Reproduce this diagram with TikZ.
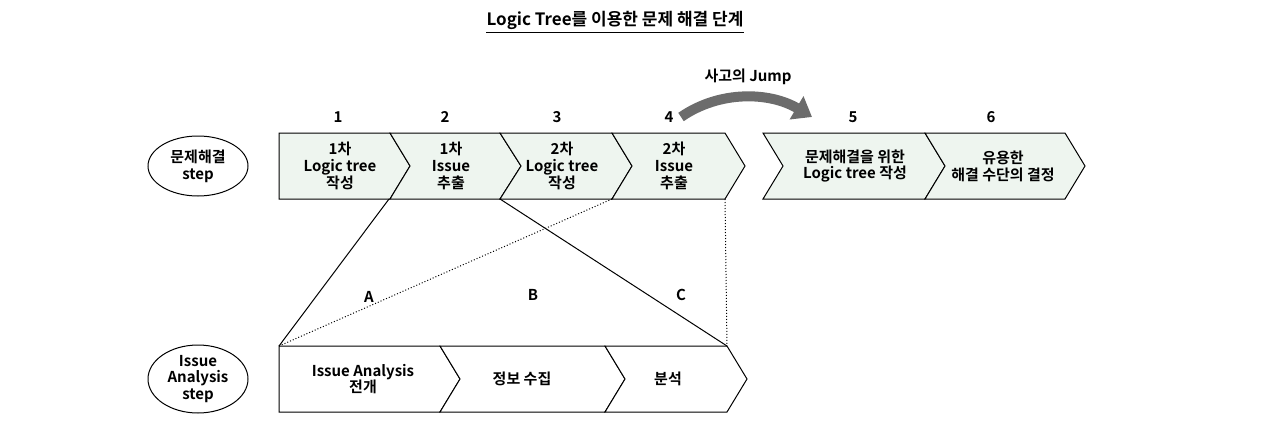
\documentclass[tikz,border=0pt]{standalone}
\usepackage{fontspec}
\setmainfont{Noto Sans CJK KR}[BoldFont={Noto Sans CJK KR Bold}]
\usetikzlibrary{arrows.meta}
\definecolor{chev}{HTML}{EEF5EF}
\begin{document}
\begin{tikzpicture}[x=0.5pt,y=-0.5pt,
  chevf/.style={draw=black,line width=0.5pt,fill=chev},
  chevw/.style={draw=black,line width=0.5pt,fill=white},
  txt/.style={font=\bfseries\fontsize{7.5}{8.4}\selectfont,align=center,inner sep=0pt},
  lbl/.style={font=\bfseries\fontsize{7.5}{9}\selectfont,inner sep=0pt}]
\useasboundingbox (0,0) rectangle (1280,429);
\node[font=\bfseries\fontsize{8.5}{9}\selectfont,inner sep=0pt] (title) at (615,20) {Logic Tree를 이용한 문제 해결 단계};
\draw[line width=0.5pt] ([yshift=-1.5pt]title.south west)--([yshift=-1.5pt]title.south east);
% top chevrons
\filldraw[chevf] (279,133)--(390,133)--(410,166)--(390,199)--(279,199)--cycle;
\filldraw[chevf] (390,133)--(500,133)--(521,166)--(500,199)--(390,199)--(410,166)--cycle;
\filldraw[chevf] (500,133)--(612,133)--(632,166)--(612,199)--(500,199)--(521,166)--cycle;
\filldraw[chevf] (612,133)--(725,133)--(745,166)--(725,199)--(612,199)--(632,166)--cycle;
\filldraw[chevf] (763,133)--(925,133)--(945,166)--(925,199)--(763,199)--(783,166)--cycle;
\filldraw[chevf] (925,133)--(1065,133)--(1085,166)--(1065,199)--(925,199)--(945,166)--cycle;
\node[txt] (t1) at (340,166) {1차\\Logic tree\\작성};
\node[txt] (t2) at (451,166) {1차\\Issue\\추출};
\node[txt] (t3) at (562,166) {2차\\Logic tree\\작성};
\node[txt] (t4) at (674,166) {2차\\Issue\\추출};
\node[txt] (t5) at (855,166) {문제해결을 위한\\Logic tree 작성};
\node[txt] (t6) at (1003,166) {유용한\\해결 수단의 결정};
\node[lbl] (n1) at (338,117) {1};
\node[lbl] (n2) at (445,117) {2};
\node[lbl] (n3) at (557,117) {3};
\node[lbl] (n4) at (669,117) {4};
\node[lbl] (n5) at (853,117) {5};
\node[lbl] (n6) at (991,117) {6};
% bottom chevrons
\filldraw[chevw] (279,346)--(440,346)--(460,379)--(440,412)--(279,412)--cycle;
\filldraw[chevw] (440,346)--(605,346)--(625,379)--(605,412)--(440,412)--(460,379)--cycle;
\filldraw[chevw] (605,346)--(727,346)--(747,379)--(727,412)--(605,412)--(625,379)--cycle;
\node[txt] (b1) at (363,379) {Issue Analysis\\전개};
\node[txt] (b2) at (522,379) {정보 수집};
\node[txt] (b3) at (668,379) {분석};
% ellipses
\draw[line width=0.5pt] (198,166) ellipse [x radius=50,y radius=30];
\node[txt] (e1) at (198,166) {문제해결\\step};
\draw[line width=0.5pt] (198,379) ellipse [x radius=50,y radius=34];
\node[txt] (e2) at (198,379) {Issue\\Analysis\\step};
% connectors
\coordinate (p1) at (389,199); \coordinate (p2) at (500,199);
\coordinate (p3) at (612,199); \coordinate (p4) at (725,199);
\coordinate (q1) at (279,346); \coordinate (q2) at (727,346);
\draw[line width=0.5pt] (p1)--(q1);
\draw[line width=0.5pt] (p2)--(q2);
\draw[line width=0.5pt,densely dotted] (p3)--(q1);
\draw[line width=0.5pt,densely dotted] (p4)--(q2);
\node[lbl] (la) at (369,297) {A};
\node[lbl] (lb) at (533,295) {B};
\node[lbl] (lc) at (681,295) {C};
% jump
\node[lbl] (jl) at (748,77) {사고의 Jump};
\coordinate (j0) at (681,117); \coordinate (j1) at (812,117);
\draw[gray!85!black,line width=5pt,-{Triangle[length=9pt,width=13pt]}] (j0) .. controls (720,90) and (770,92) .. (j1);
\end{tikzpicture}
\end{document}
